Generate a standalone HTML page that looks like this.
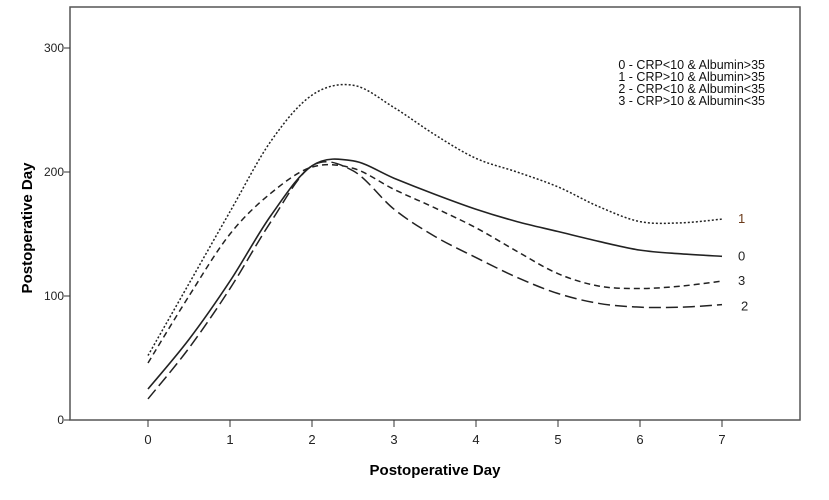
<!DOCTYPE html>
<html><head><meta charset="utf-8"><style>
html,body{margin:0;padding:0;background:#fff;}
svg{display:block;font-family:"Liberation Sans",Arial,sans-serif;}
</style></head><body>
<svg id="chart" width="829" height="500" viewBox="0 0 829 500">
<rect x="70" y="7" width="730" height="413" fill="#fff" stroke="#555" stroke-width="1.5"/>
<g id="axes"></g>
<g id="series"></g>
<text x="18" y="214" font-size="15" font-weight="bold" transform="rotate(-90 32 214)" text-anchor="middle">Postoperative Day</text>
<text x="435" y="475" font-size="15" font-weight="bold" text-anchor="middle">Postoperative Day</text>
<g font-size="12.5" fill="#111" text-anchor="end">
<text x="765" y="69">0 - CRP&lt;10 &amp; Albumin&gt;35</text>
<text x="765" y="81">1 - CRP&gt;10 &amp; Albumin&gt;35</text>
<text x="765" y="93">2 - CRP&lt;10 &amp; Albumin&lt;35</text>
<text x="765" y="105">3 - CRP&gt;10 &amp; Albumin&lt;35</text>
</g>
</svg>
<script>
const days = [0,0.5,1,1.5,2,2.5,3,3.5,4,4.5,5,5.5,6,6.5,7];
const xTicks = [0,1,2,3,4,5,6,7];
const yTicks = [0,100,200,300];
const seriesNames = ["0","1","2","3"];
const s0 = [25,65,112,165,205,209,195,182,170,160,152,144,137,134,132];
const s1 = [52,110,168,225,262,270,252,230,211,200,188,172,160,159,162];
const s2 = [17,58,106,160,205,201,170,148,131,115,102,94,91,91,93];
const s3 = [46,100,150,183,204,203,186,171,155,136,118,108,106,108,112];

const NS="http://www.w3.org/2000/svg";
const xs = d => 148 + d*82;
const ys = v => 420 - v*1.24;
const axes=document.getElementById('axes');
function mk(tag,attrs,parent){const e=document.createElementNS(NS,tag);for(const k in attrs)e.setAttribute(k,attrs[k]);parent.appendChild(e);return e;}
xTicks.forEach(t=>{
  const l=mk('line',{x1:xs(t),x2:xs(t),y1:420,y2:427,stroke:'#333'},axes);
  
  
  const tx=mk('text',{x:xs(t),y:444,'font-size':13,'text-anchor':'middle',fill:'#222'},axes);
  tx.textContent=t;
  
  
});
yTicks.forEach(t=>{
  const l=mk('line',{x1:64,x2:70,y1:ys(t),y2:ys(t),stroke:'#333'},axes);
  
  
  const tx=mk('text',{x:64,y:ys(t)+4,'font-size':12,'text-anchor':'end',fill:'#222'},axes);
  tx.textContent=t;
  
  
});
function pathFor(vals){
  const p=vals.map((v,i)=>[xs(days[i]),ys(v)]);
  let d=`M${p[0][0]},${p[0][1]}`;
  for(let i=0;i<p.length-1;i++){
    const p0=p[i-1]||p[i],p1=p[i],p2=p[i+1],p3=p[i+2]||p[i+1];
    const c1=[p1[0]+(p2[0]-p0[0])/6,p1[1]+(p2[1]-p0[1])/6];
    const c2=[p2[0]-(p3[0]-p1[0])/6,p2[1]-(p3[1]-p1[1])/6];
    d+=` C${c1[0]},${c1[1]} ${c2[0]},${c2[1]} ${p2[0]},${p2[1]}`;
  }
  return d;
}
const sg=document.getElementById('series');
const defs=[[s0,'none',1.6,'#222'],[s1,'2 2',1.5,'#6b3a1a'],[s2,'12 5',1.5,'#222'],[s3,'6 4',1.5,'#222']];
const labelDY=[4,4,8,4];
defs.forEach((d,i)=>{
  const p=mk('path',{d:pathFor(d[0]),fill:'none',stroke:'#222','stroke-width':d[2],'stroke-dasharray':d[1]},sg);
  
  
  const last=d[0][d[0].length-1];
  const t=mk('text',{x:xs(7)+16+(i===2?3:0),y:ys(last)+labelDY[i]+(i===2?-2:0),'font-size':13,fill:d[3]},sg);
  t.textContent=seriesNames[i];
  
  
});
</script>
</body></html>
